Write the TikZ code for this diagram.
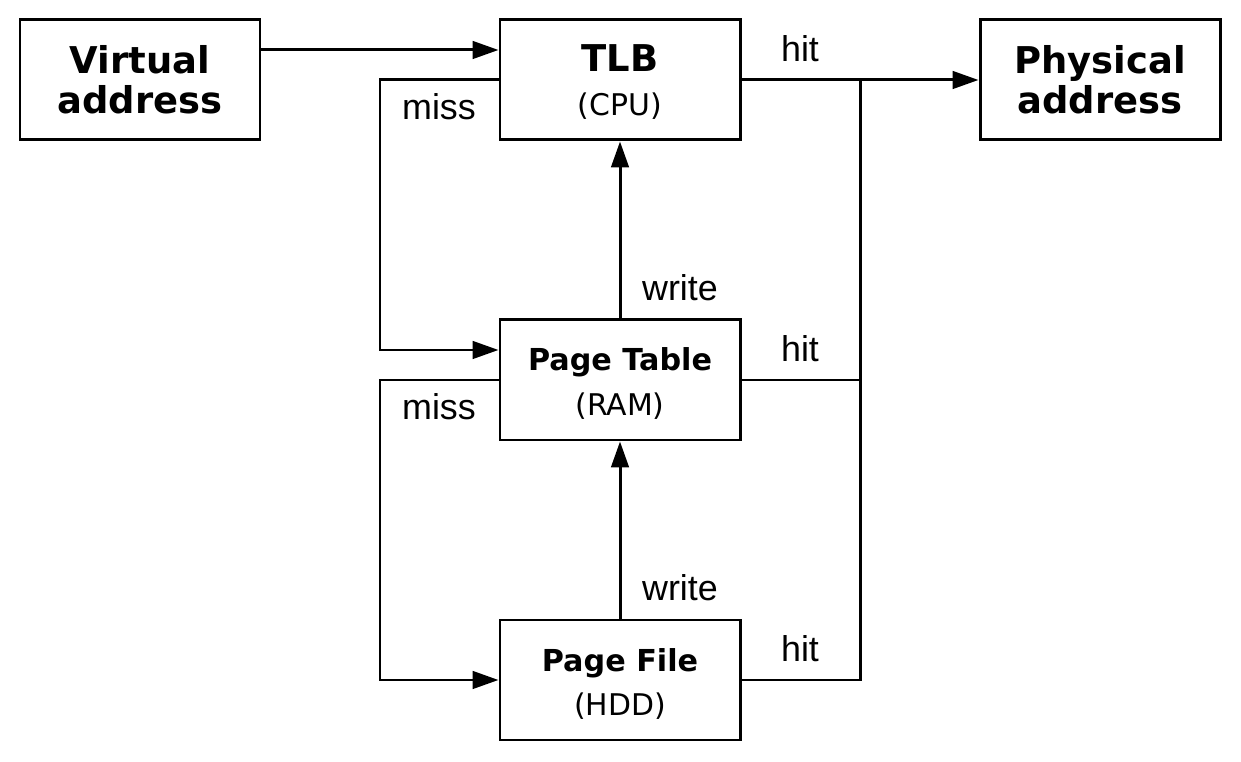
\documentclass[tikz,border=0pt]{standalone}
\usepackage{fontspec}
\setmainfont{DejaVu Sans}
\newfontfamily\labelfont{Liberation Sans}
\usetikzlibrary{arrows.meta,positioning}

\tikzset{
	unit/.style={draw=black, line width=0.85pt, minimum width=2.4cm, minimum height=1.2cm, align=center, inner sep=0pt},
	wire/.style={black, line width=0.85pt},
	flow/.style={wire, -{Triangle[length=7.4pt,width=5pt]}},
	tag/.style={anchor=base, font=\labelfont\fontsize{10.2}{12}\selectfont}
}
\newcommand{\bigtitle}[1]{{\bfseries\fontsize{10.5}{11.7}\selectfont #1}}
\newcommand{\unittitle}[2]{\rule{0pt}{8.8pt}{\bfseries\fontsize{8.6}{9}\selectfont #1}\\[0.8pt]{\fontsize{8.5}{9}\selectfont #2}}

\begin{document}
\begin{tikzpicture}
	\useasboundingbox (0,0) rectangle (12.41,7.62);

%cajas
	\node[unit] (virt) at (1.40,6.82) {\bigtitle{Virtual}\\[-0.5pt]\bigtitle{address}};
	\node[unit] (tlb) at (6.20,6.82) {\rule{0pt}{8.8pt}{\bfseries\fontsize{10.5}{11}\selectfont TLB}\\[0.5pt]{\fontsize{8.5}{9}\selectfont (CPU)}};
	\node[unit] (phys) at (11.00,6.82) {\bigtitle{Physical}\\[-0.5pt]\bigtitle{address}};
	\node[unit] (ptab) at (6.20,3.82) {\unittitle{Page Table}{(RAM)}};
	\node[unit] (pfile) at (6.20,0.82) {\unittitle{Page File}{(HDD)}};

	%puntos de paso
	\coordinate (hitbus) at (8.60,6.82);
	\coordinate (missbus) at (3.80,6.82);

%flechas
	\draw[flow] ([yshift=3mm]virt.east) -- ([yshift=3mm]tlb.west);
	\draw[flow] (tlb.east) -- (phys.west);
	%hit
	\draw[wire] (ptab.east) -- (ptab.east -| hitbus);
	\draw[wire] (pfile.east) -| (hitbus);
	%miss
	\draw[flow] (tlb.west) -- (missbus) |- ([yshift=3mm]ptab.west);
	\draw[flow] (ptab.west) -- (ptab.west -| missbus) |- (pfile.west);
	%write
	\draw[flow] (ptab.north) -- (tlb.south);
	\draw[flow] (pfile.north) -- (ptab.south);

%etiquetas
	\node[tag] (hit1) at (8.00,7.00) {hit};
	\node[tag] (hit2) at (8.00,4.00) {hit};
	\node[tag] (hit3) at (8.00,1.00) {hit};
	\node[tag] (miss1) at (4.39,6.42) {miss};
	\node[tag] (miss2) at (4.39,3.42) {miss};
	\node[tag] (write1) at (6.80,4.61) {write};
	\node[tag] (write2) at (6.80,1.61) {write};
\end{tikzpicture}
\end{document}
